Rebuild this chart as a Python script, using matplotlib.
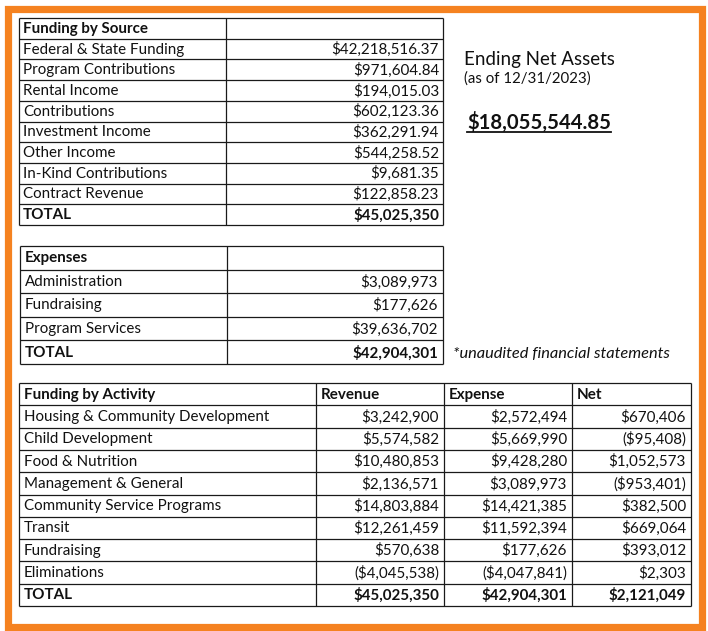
import numpy as np
import matplotlib
matplotlib.use('Agg')
import matplotlib.pyplot as plt
from matplotlib.patches import Rectangle

# ---- data ----
source_labels = ['Federal & State Funding', 'Program Contributions', 'Rental Income',
                 'Contributions', 'Investment Income', 'Other Income',
                 'In-Kind Contributions', 'Contract Revenue']
source_values = [42218516.37, 971604.84, 194015.03, 602123.36, 362291.94,
                 544258.52, 9681.35, 122858.23]
source_total = 45025350

expense_labels = ['Administration', 'Fundraising', 'Program Services']
expense_values = [3089973, 177626, 39636702]
expense_total = 42904301

activity_labels = ['Housing & Community Development', 'Child Development',
                   'Food & Nutrition', 'Management & General',
                   'Community Service Programs', 'Transit', 'Fundraising',
                   'Eliminations']
activity_revenue = [3242900, 5574582, 10480853, 2136571, 14803884, 12261459,
                    570638, -4045538]
activity_expense = [2572494, 5669990, 9428280, 3089973, 14421385, 11592394,
                    177626, -4047841]
activity_net = [670406, -95408, 1052573, -953401, 382500, 669064, 393012, 2303]
activity_totals = [45025350, 42904301, 2121049]
activity_headers = ['Funding by Activity', 'Revenue', 'Expense', 'Net']

net_assets = 18055544.85
net_assets_date = '12/31/2023'

FONT = 'Lato'
FS = 10.9
LINE = '#1a1a1a'
ORANGE = '#F58220'


def money(v, cents=False):
    s = f'${abs(v):,.2f}' if cents else f'${abs(v):,.0f}'
    return f'({s})' if v < 0 else s


def hline(ax, y, x0, x1):
    ax.plot([x0, x1], [y, y], color=LINE, lw=0.9, solid_capstyle='butt')


def vline(ax, x, y0, y1):
    ax.plot([x, x], [y0, y1], color=LINE, lw=0.9, solid_capstyle='butt')


def draw_table(ax, cols, rows, cells, bold_rows=(), left_cols=(0,), pad=4):
    for y in rows:
        hline(ax, y, cols[0], cols[-1])
    for x in cols:
        vline(ax, x, rows[0], rows[-1])
    for r, row in enumerate(cells):
        yc = (rows[r] + rows[r + 1]) / 2 + 0.5
        weight = 'bold' if r in bold_rows else 'normal'
        for c, txt in enumerate(row):
            if not txt:
                continue
            if c in left_cols or r == 0:
                ax.text(cols[c] + pad, yc, txt, ha='left', va='center',
                        fontsize=FS, fontfamily=FONT, fontweight=weight, color='#111111')
            else:
                ax.text(cols[c + 1] - pad, yc, txt, ha='right', va='center',
                        fontsize=FS, fontfamily=FONT, fontweight=weight, color='#111111')


fig = plt.figure(figsize=(7.08, 6.31), dpi=100)
ax = fig.add_axes([0, 0, 1, 1])
ax.set_xlim(0, 708)
ax.set_ylim(631, 0)
ax.axis('off')

# orange frame
ax.add_patch(Rectangle((7.5, 8.5), 694, 618, fill=False, ec=ORANGE, lw=5.2))

# funding by source
cells1 = [['Funding by Source', '']]
cells1 += [[l, money(v, cents=True)] for l, v in zip(source_labels, source_values)]
cells1 += [['TOTAL', money(source_total)]]
draw_table(ax, [19, 226, 443], np.linspace(18, 225, len(cells1) + 1), cells1,
           bold_rows=(0, len(cells1) - 1))

# expenses
cells2 = [['Expenses', '']]
cells2 += [[l, money(v)] for l, v in zip(expense_labels, expense_values)]
cells2 += [['TOTAL', money(expense_total)]]
draw_table(ax, [20, 227, 443], np.linspace(246, 364, len(cells2) + 1), cells2,
           bold_rows=(0, len(cells2) - 1), pad=5)
ax.text(453, 353.5, '*unaudited financial statements', ha='left', va='center',
        fontsize=11.8, fontfamily=FONT, fontstyle='italic', color='#111111')

# funding by activity
cells3 = [activity_headers]
for l, rv, ex, nt in zip(activity_labels, activity_revenue, activity_expense, activity_net):
    cells3.append([l, money(rv), money(ex), money(nt)])
cells3.append(['TOTAL'] + [money(v) for v in activity_totals])
draw_table(ax, [19, 316, 444, 572, 691], np.linspace(383, 606, len(cells3) + 1), cells3,
           bold_rows=(0, len(cells3) - 1), pad=5)

# ending net assets
ax.text(464, 60, 'Ending Net Assets', ha='left', va='center', fontsize=13.5,
        fontfamily=FONT, color='#111111')
ax.text(464, 79, f'(as of {net_assets_date})', ha='left', va='center', fontsize=10.8,
        fontfamily=FONT, color='#111111')
t = ax.text(467, 122, money(net_assets, cents=True), ha='left', va='center',
            fontsize=14.6, fontfamily=FONT, fontweight='bold', color='#111111')
fig.canvas.draw()
bb = t.get_window_extent().transformed(ax.transData.inverted())
ax.plot([bb.x0, bb.x1], [131.5, 131.5], color='#111111', lw=1.3)

fig.savefig('out.png', dpi=100, facecolor='white')
